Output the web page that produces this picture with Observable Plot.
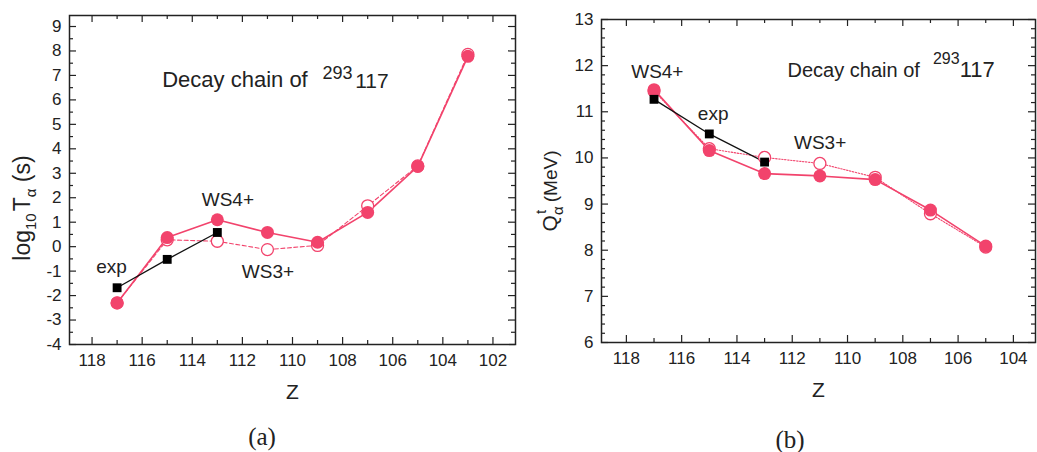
<!DOCTYPE html>
<html><head><meta charset="utf-8">
<script src="https://cdn.jsdelivr.net/npm/d3@7"></script>
<script src="https://cdn.jsdelivr.net/npm/@observablehq/plot@0.6"></script>
<style>
body{margin:0;background:#fff;width:1037px;height:452px;position:relative;overflow:hidden;font-family:"Liberation Sans",Arial,sans-serif}
.panel{position:absolute;top:0}
.cap{position:absolute;font-family:"Liberation Serif",serif;font-size:25px;color:#222;transform:translate(-50%,-50%);white-space:nowrap}
</style></head><body>
<div id="a" class="panel" style="left:0px"></div>
<div id="b" class="panel" style="left:520px"></div>
<div class="cap" style="left:262px;top:437px">(a)</div>
<div class="cap" style="left:790px;top:440px">(b)</div>
<script>
// ---- Panel (a): log10 T_alpha ----
const zA = [117, 115, 113, 111, 109, 107, 105, 103];
const ws4A = [-2.3, 0.37, 1.1, 0.58, 0.18, 1.4, 3.28, 7.78];
const ws3A = [-2.3, 0.28, 0.22, -0.12, 0.05, 1.67, 3.3, 7.86];
const zExpA = [117, 115, 113];
const expA = [-1.68, -0.52, 0.58];
const xMajorA = [118, 116, 114, 112, 110, 108, 106, 104, 102];
const xMinorA = [117, 115, 113, 111, 109, 107, 105, 103];
const yMajorA = [-4, -3, -2, -1, 0, 1, 2, 3, 4, 5, 6, 7, 8, 9];
const yMinorA = [-3.5, -2.5, -1.5, -0.5, 0.5, 1.5, 2.5, 3.5, 4.5, 5.5, 6.5, 7.5, 8.5];
const labelsA = [
  {z: 117.22, v: -0.81, t: "exp"},
  {z: 112.58, v: 1.93, t: "WS4+"},
  {z: 110.98, v: -1.02, t: "WS3+"}
];
const chainA = [
  {z: 115.2, v: 6.8, t: "Decay chain of"},
  {z: 108.8, v: 7.08, t: "293"},
  {z: 107.5, v: 6.76, t: "117"}
];

// ---- Panel (b): Q_alpha ----
const zB = [117, 115, 113, 111, 109, 107, 105];
const ws4B = [11.48, 10.16, 9.66, 9.61, 9.53, 8.87, 8.09];
const ws3B = [11.45, 10.2, 10.01, 9.88, 9.58, 8.79, 8.07];
const zExpB = [117, 115, 113];
const expB = [11.27, 10.52, 9.91];
const xMajorB = [118, 116, 114, 112, 110, 108, 106, 104];
const xMinorB = [117, 115, 113, 111, 109, 107, 105];
const yMajorB = [6, 7, 8, 9, 10, 11, 12, 13];
const yMinorB = [6.2, 6.4, 6.6, 6.8, 7.2, 7.4, 7.6, 7.8, 8.2, 8.4, 8.6, 8.8, 9.2, 9.4, 9.6, 9.8,
                 10.2, 10.4, 10.6, 10.8, 11.2, 11.4, 11.6, 11.8, 12.2, 12.4, 12.6, 12.8];
const labelsB = [
  {z: 116.88, v: 11.87, t: "WS4+"},
  {z: 114.86, v: 10.96, t: "exp"},
  {z: 110.99, v: 10.33, t: "WS3+"}
];
const chainB = [
  {z: 112.17, v: 11.9, t: "Decay chain of"},
  {z: 106.91, v: 12.15, t: "293"},
  {z: 105.94, v: 11.9, t: "117"}
];

const pink = "#f2436c";
const ink = "#222";
const FONT = "Liberation Sans, Arial, sans-serif";

function panel(c) {
  const fw = c.width - c.ml - c.mr, fh = c.height - c.mt - c.mb;
  const rows = (zs, vs) => zs.map((z, i) => ({z, v: vs[i]}));
  const ws4 = rows(c.z, c.ws4), ws3 = rows(c.z, c.ws3), exp = rows(c.zExp, c.exp);
  const tk = {stroke: ink, strokeWidth: 1.2};
  const svg = Plot.plot({
    width: c.width, height: c.height,
    marginLeft: c.ml, marginRight: c.mr, marginTop: c.mt, marginBottom: c.mb,
    x: {domain: c.xDomain},
    y: {domain: c.yDomain},
    style: {fontFamily: FONT, fontSize: "17px", color: ink, background: "white", overflow: "visible"},
    marks: [
      Plot.tickX(c.xMajor, {...tk, insetTop: fh - 7}),
      Plot.tickX(c.xMinor, {...tk, insetTop: fh - 4}),
      Plot.tickX(c.xMajor, {...tk, insetBottom: fh - 7}),
      Plot.tickX(c.xMinor, {...tk, insetBottom: fh - 4}),
      Plot.tickY(c.yMajor, {...tk, insetRight: fw - 7}),
      Plot.tickY(c.yMinor, {...tk, insetRight: fw - 4}),
      Plot.tickY(c.yMajor, {...tk, insetLeft: fw - 7}),
      Plot.tickY(c.yMinor, {...tk, insetLeft: fw - 4}),
      Plot.line(ws3, {x: "z", y: "v", stroke: pink, strokeWidth: 1.1, strokeDasharray: c.dash}),
      Plot.line(ws4, {x: "z", y: "v", stroke: pink, strokeWidth: 1.6}),
      Plot.line(exp, {x: "z", y: "v", stroke: "#111", strokeWidth: 1.3}),
      Plot.dot(ws3, {x: "z", y: "v", r: 6, fill: "white", stroke: pink, strokeWidth: 1.3}),
      Plot.dot(ws4, {x: "z", y: "v", r: 6.5, fill: pink}),
      Plot.dot(exp, {x: "z", y: "v", symbol: "square", r: 5, fill: "#000"}),
      Plot.frame({stroke: ink, strokeWidth: 1.5}),
      Plot.axisX({ticks: c.xMajor, tickFormat: d => String(d), tickSize: 0, tickPadding: 9, fontSize: 17, label: null}),
      Plot.axisY({ticks: c.yMajor, tickFormat: d => String(d), tickSize: 0, tickPadding: 8, fontSize: 17, label: null}),
      Plot.text(c.labels, {x: "z", y: "v", text: "t", fontSize: c.labelFs, fill: ink}),
      Plot.text([c.chain[0]], {x: "z", y: "v", text: "t", fontSize: c.chainFs[0], textAnchor: "start", fill: ink}),
      Plot.text([c.chain[1]], {x: "z", y: "v", text: "t", fontSize: c.chainFs[1], textAnchor: "start", fill: ink}),
      Plot.text([c.chain[2]], {x: "z", y: "v", text: "t", fontSize: c.chainFs[2], textAnchor: "start", fill: ink}),
      Plot.text(["Z"], {frameAnchor: "bottom", dy: c.zDy, fontSize: 21, fill: ink, lineAnchor: "middle"})
    ]
  });
  return svg;
}

// Panel a
const svgA = panel({
  width: 520, height: 400, ml: 69, mr: 5, mt: 15, mb: 56,
  xDomain: [118.9, 101.1], yDomain: [-4, 9.45],
  z: zA, ws4: ws4A, ws3: ws3A, zExp: zExpA, exp: expA,
  xMajor: xMajorA, xMinor: xMinorA, yMajor: yMajorA, yMinor: yMinorA,
  labels: labelsA, chain: chainA, labelFs: 19, chainFs: [22, 18, 21], dash: "4,2.5", zDy: 48
});
document.getElementById("a").appendChild(svgA);
{
  const t = d3.select(svgA).append("text")
    .attr("transform", "translate(30,208) rotate(-90)")
    .attr("text-anchor", "middle").attr("fill", ink)
    .attr("font-size", 23).attr("font-family", FONT);
  t.append("tspan").text("log");
  t.append("tspan").attr("font-size", 15).attr("dy", 6).text("10");
  t.append("tspan").attr("dy", -6).attr("dx", 2).text("T");
  t.append("tspan").attr("font-size", 15).attr("dy", 6).text("α");
  t.append("tspan").attr("dy", -6).text(" (s)");
}

// Panel b
const svgB = panel({
  width: 517, height: 400, ml: 81, mr: 2, mt: 19, mb: 58,
  xDomain: [118.9, 103.2], yDomain: [6, 13],
  z: zB, ws4: ws4B, ws3: ws3B, zExp: zExpB, exp: expB,
  xMajor: xMajorB, xMinor: xMinorB, yMajor: yMajorB, yMinor: yMinorB,
  labels: labelsB, chain: chainB, labelFs: 19, chainFs: [20, 16, 22], dash: "1.5,1.5", zDy: 48
});
document.getElementById("b").appendChild(svgB);
{
  const t = d3.select(svgB).append("text")
    .attr("transform", "translate(37,191) rotate(-90)")
    .attr("text-anchor", "middle").attr("fill", ink)
    .attr("font-size", 21).attr("font-family", FONT);
  t.append("tspan").text("Q");
  t.append("tspan").attr("font-size", 15).attr("dy", -11).attr("dx", 1).text("t");
  t.append("tspan").attr("font-size", 15).attr("dy", 17).attr("dx", -5).text("α");
  t.append("tspan").attr("font-size", 19).attr("dy", -6).attr("dx", 4).text("(MeV)");
}
</script>
</body></html>
